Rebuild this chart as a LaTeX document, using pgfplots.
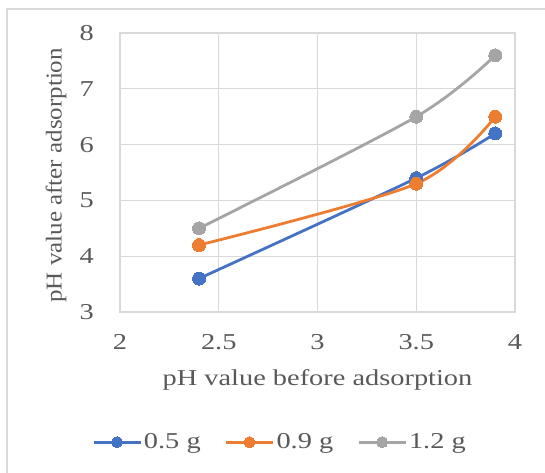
\documentclass[border=0pt]{standalone}
\usepackage{fontspec}
\setmainfont{Liberation Serif}[FakeStretch=1.25]
\newfontfamily\ylabfont{Liberation Serif}[FakeStretch=1.1]
\usepackage{pgfplots}
\pgfplotsset{compat=1.18}
\definecolor{s1}{HTML}{4472C4}
\definecolor{s2}{HTML}{ED7D31}
\definecolor{s3}{HTML}{A5A5A5}
\definecolor{gridc}{HTML}{D9D9D9}
\definecolor{txt}{HTML}{595959}
\newcommand{\chartfont}{\fontsize{22.7}{27}\selectfont}

\begin{document}
\begin{tikzpicture}[x=1pt,y=1pt]
\useasboundingbox (0,0) rectangle (545,472);
% chart area border
\draw[gridc, line width=1.2pt] (7,-10) rectangle (560,463);
\begin{axis}[
  at={(120pt,160pt)}, anchor=south west,
  scale only axis, width=395pt, height=279pt,
  xmin=2, xmax=4, ymin=3, ymax=8,
  xtick={2,2.5,3,3.5,4}, ytick={3,4,5,6,7,8},
  grid=major,
  major grid style={gridc, line width=1.2pt},
  axis line style={gridc, line width=1.2pt},
  major tick length=0pt,
  /pgf/number format/assume math mode=true,
  tick label style={font=\chartfont, text=txt},
  xticklabel style={anchor=center, yshift=-30pt},
  yticklabel style={anchor=east, inner sep=0pt, xshift=-26pt},
  xlabel={pH value before adsorption},
  ylabel={pH value after adsorption},
  xlabel style={font=\chartfont, text=txt,
    at={([yshift=-68pt]axis description cs:0.5,0)}, anchor=center},
  ylabel style={font=\ylabfont\chartfont, text=txt,
    at={([xshift=-64pt]axis description cs:0,0.49)}, anchor=center},
  legend columns=3,
  legend style={at={(0.405,-0.4665)}, anchor=center, draw=none, fill=none,
    font=\chartfont, text=txt,
    /tikz/every even column/.append style={column sep=22pt}},
  legend image code/.code={
    \draw[mark repeat=2, mark phase=2, #1, mark size=5.5pt]
      plot coordinates {(0pt,0pt) (23.5pt,0pt) (47pt,0pt)};},
  every axis plot/.append style={line width=2.8pt, mark=*, mark size=6.5pt,
    smooth, tension=0.5},
]
\addplot[s1, mark options={fill=s1, draw=s1, line width=0pt}]
  coordinates {(2.4,3.6) (3.5,5.4) (3.9,6.2)};
\addlegendentry{0.5 g}
\addplot[s2, mark options={fill=s2, draw=s2, line width=0pt}]
  coordinates {(2.4,4.2) (3.5,5.3) (3.9,6.5)};
\addlegendentry{0.9 g}
\addplot[s3, mark options={fill=s3, draw=s3, line width=0pt}]
  coordinates {(2.4,4.5) (3.5,6.5) (3.9,7.6)};
\addlegendentry{1.2 g}
\end{axis}
\end{tikzpicture}
\end{document}
